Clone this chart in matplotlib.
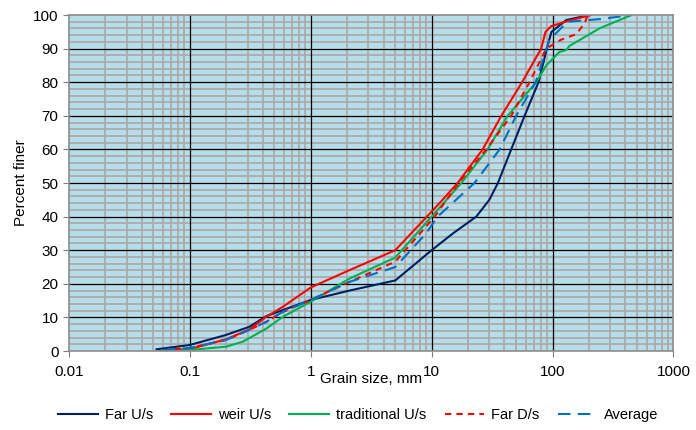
import numpy as np
import matplotlib.pyplot as plt
from matplotlib.ticker import LogLocator, MultipleLocator, FixedLocator

plt.rcParams['font.family'] = ['Liberation Sans', 'DejaVu Sans']

# grain size (mm) / percent finer
far_us_d = [0.053, 0.1, 0.2, 0.31, 0.43, 0.59, 1, 2.1, 5, 10, 15, 23.4, 30, 35.3, 45.5, 58.7, 76.5, 89.7, 98, 130, 202]
far_us_p = [0.5, 1.8, 4.8, 7.2, 10.4, 12.2, 15.2, 18, 21, 30, 35, 40, 45, 50, 60, 70, 80, 90, 95, 98.5, 100]

weir_us_d = [0.068, 0.1, 0.2, 0.31, 0.43, 0.59, 1, 2.1, 5, 10, 12.3, 16.4, 26.4, 37.7, 56, 80.5, 87.5, 97.6, 142, 209]
weir_us_p = [0.3, 0.6, 3.5, 6.4, 10.2, 13.2, 18.9, 24.1, 30, 41.5, 45, 50, 60, 70, 80, 90, 95, 96.7, 98.5, 100]

trad_us_d = [0.056, 0.1, 0.2, 0.275, 0.43, 0.59, 1, 2.1, 5, 10, 17.6, 29, 42.5, 73.3, 88.7, 114, 130, 138, 244, 450]
trad_us_p = [0, 0.3, 1.3, 2.8, 6.7, 10.2, 14.7, 21.6, 27.8, 40, 50, 60, 70, 80, 85, 89, 89.6, 90.8, 96, 100]

far_ds_d = [0.06, 0.1, 0.2, 0.31, 0.43, 0.59, 1, 2.1, 5, 10.6, 16.7, 28.3, 45.5, 64.5, 88.7, 117, 157, 184, 193]
far_ds_p = [0.3, 0.9, 3.3, 6.3, 8.7, 11.7, 15.2, 20.6, 26.6, 40, 50, 60, 70, 80, 90, 92.6, 94.3, 97.5, 99.5]

avg_d = [0.06, 0.1, 0.2, 0.31, 0.43, 0.59, 1, 2.1, 5, 9, 11.2, 22.6, 36.5, 50, 72.5, 94, 133, 250, 450]
avg_p = [0.3, 0.9, 3.3, 6.3, 8.7, 11.7, 15.2, 20.6, 25, 35, 40, 50, 60, 70, 80, 92.6, 98, 98.8, 100]

series = [
    ("Far U/s", far_us_d, far_us_p, "#002060", "-"),
    ("weir U/s", weir_us_d, weir_us_p, "#ff0000", "-"),
    ("traditional U/s", trad_us_d, trad_us_p, "#00b050", "-"),
    ("Far D/s", far_ds_d, far_ds_p, "#ff0000", (0, (3, 2.5))),
    ("Average", avg_d, avg_p, "#0070c0", (0, (6, 3.5))),
]

x_major = [0.01, 0.1, 1, 10, 100, 1000]
x_labels = ["0.01", "0.1", "1", "10", "100", "1000"]

fig = plt.figure(figsize=(6.96, 4.30), dpi=100)
ax = fig.add_axes([0.0991, 0.1837, 0.8685, 0.7814])
ax.set_facecolor("#b7dde8")

ax.set_xscale("log")
ax.set_xlim(0.01, 1000)
ax.set_ylim(0, 100)
ax.xaxis.set_major_locator(FixedLocator(x_major))
ax.xaxis.set_minor_locator(LogLocator(base=10, subs=np.arange(2, 10), numticks=20))
ax.set_xticklabels(x_labels)
ax.yaxis.set_major_locator(MultipleLocator(10))
ax.yaxis.set_minor_locator(MultipleLocator(2))

# light grid from minor ticks, dark major lines on top of it
ax.grid(which="minor", color="#a9a9a9", linewidth=1.2)
ax.set_axisbelow(True)
for xv in x_major[1:-1]:
    ax.axvline(xv, color="black", linewidth=0.9, zorder=1)
for yv in range(10, 100, 10):
    ax.axhline(yv, color="black", linewidth=0.9, zorder=1)

for label, d, p, color, ls in series:
    ax.plot(d, p, color=color, linestyle=ls, linewidth=1.5, label=label, zorder=3)

ax.tick_params(axis="both", which="major", labelsize=11, length=4, color="#7f7f7f")
ax.tick_params(axis="both", which="minor", length=0)
ax.tick_params(axis="x", pad=6)
for s in ax.spines.values():
    s.set_color("#8c8c8c")
    s.set_linewidth(1.2)
    s.set_zorder(4)

ax.set_ylabel("Percent finer", fontsize=11, labelpad=4)
ax.set_xlabel("Grain size, mm", fontsize=11, labelpad=-5)

fig.legend(loc="lower center", bbox_to_anchor=(0.515, -0.012), ncol=5, frameon=False,
           fontsize=10.5, handlelength=2.7, columnspacing=1.25, handletextpad=0.5)

fig.savefig("out.png", dpi=100)
